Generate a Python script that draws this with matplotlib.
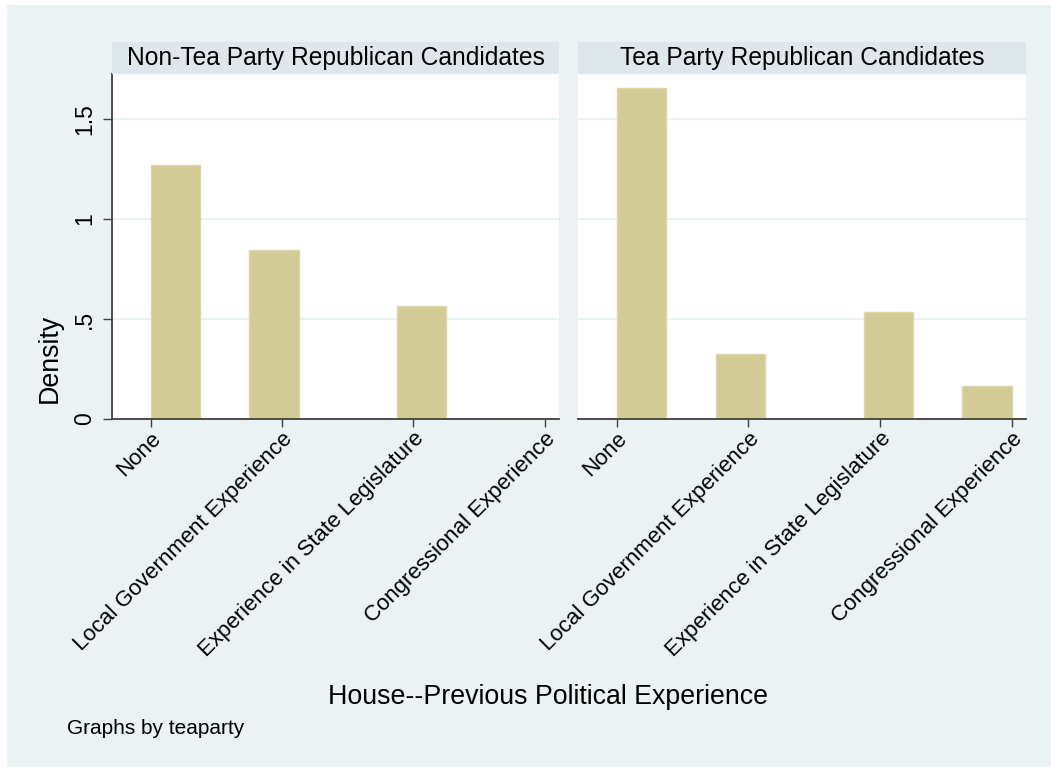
import matplotlib
matplotlib.use("Agg")
import matplotlib.pyplot as plt
from matplotlib.patches import Rectangle

plt.rcParams['font.family'] = ['Liberation Sans', 'DejaVu Sans']

# ---- data ----
categories = ["None", "Local Government Experience",
              "Experience in State Legislature", "Congressional Experience"]
panel_titles = ["Non-Tea Party Republican Candidates", "Tea Party Republican Candidates"]
density_non_tea = [1.268, 0.847, 0.567, 0.0]
density_tea = [1.657, 0.323, 0.537, 0.165]
bin_width = 0.375            # histogram bin width (8 bins over 0..3)
bin_index = [0, 2, 5, 7]     # histogram bin holding each category
yticks = [0, 0.5, 1, 1.5]
yticklabels = ["0", ".5", "1", "1.5"]
xlabel = "House--Previous Political Experience"
ylabel = "Density"
note = "Graphs by teaparty"

# ---- styling ----
W, H = 1051, 767
BG = '#eaf2f3'
STRIP = '#dee8ec'
BAR = '#d2cb96'
BAR_EDGE = '#dcd6aa'
AX = '#404040'

fig = plt.figure(figsize=(W / 100, H / 100), dpi=100)
fig.patch.set_facecolor('white')
fig.add_artist(Rectangle((7 / W, 0), 1 - 7 / W, (H - 5) / H, transform=fig.transFigure,
                         facecolor=BG, edgecolor='none', zorder=-10))


def px_box(x0, y0, x1, y1):
    return [x0 / W, 1 - y1 / H, (x1 - x0) / W, (y1 - y0) / H]


panels = [(112, 559), (578, 1026)]
data = [density_non_tea, density_tea]

for i, ((x0, x1), dens, title) in enumerate(zip(panels, data, panel_titles)):
    ax = fig.add_axes(px_box(x0, 74, x1, 419))
    ax.set_facecolor('white')
    lefts = [b * bin_width for b in bin_index]
    ax.bar(lefts, dens, width=bin_width, align='edge', color=BAR,
           edgecolor=BAR_EDGE, linewidth=1.0, zorder=2)
    ax.set_xlim(-0.295, 3.108)
    ax.set_ylim(0, 1.725)
    ax.set_yticks(yticks)
    ax.set_yticklabels(yticklabels, fontsize=16.5)
    ax.yaxis.grid(True, color=BG, linewidth=1.5)
    ax.set_axisbelow(True)
    ax.set_xticks(range(len(categories)))
    ax.set_xticklabels(categories, rotation=45, ha='right', va='top',
                       rotation_mode='anchor', fontsize=16)
    ax.tick_params(axis='x', length=6, width=1, color=AX, pad=0.5)
    for s in ['top', 'right']:
        ax.spines[s].set_visible(False)
    ax.spines['bottom'].set_color(AX)
    ax.spines['bottom'].set_linewidth(1.3)
    if i == 0:
        ax.spines['left'].set_color(AX)
        ax.spines['left'].set_linewidth(1.3)
        ax.tick_params(axis='y', length=6.5, width=1, color=AX, pad=5,
                       labelrotation=90)
        for lab in ax.get_yticklabels():
            lab.set_va('center')
    else:
        ax.spines['left'].set_visible(False)
        ax.tick_params(axis='y', left=False, labelleft=False)
    # strip header
    fig.add_artist(Rectangle((x0 / W, 1 - 74 / H), (x1 - x0) / W, 32 / H,
                             transform=fig.transFigure, facecolor=STRIP,
                             edgecolor='none', zorder=1))
    fig.text((x0 + x1) / 2 / W, 1 - 58 / H, title, ha='center', va='center',
             fontsize=17.7, color='black')

fig.text(50 / W, 1 - 358 / H, ylabel, rotation=90, ha='center', va='center', fontsize=19.3)
fig.text(548 / W, 1 - 697 / H, xlabel, ha='center', va='center', fontsize=19.3)
fig.text(67 / W, 1 - 729 / H, note, ha='left', va='center', fontsize=15)

fig.savefig('out.png', dpi=100, facecolor=fig.get_facecolor())
